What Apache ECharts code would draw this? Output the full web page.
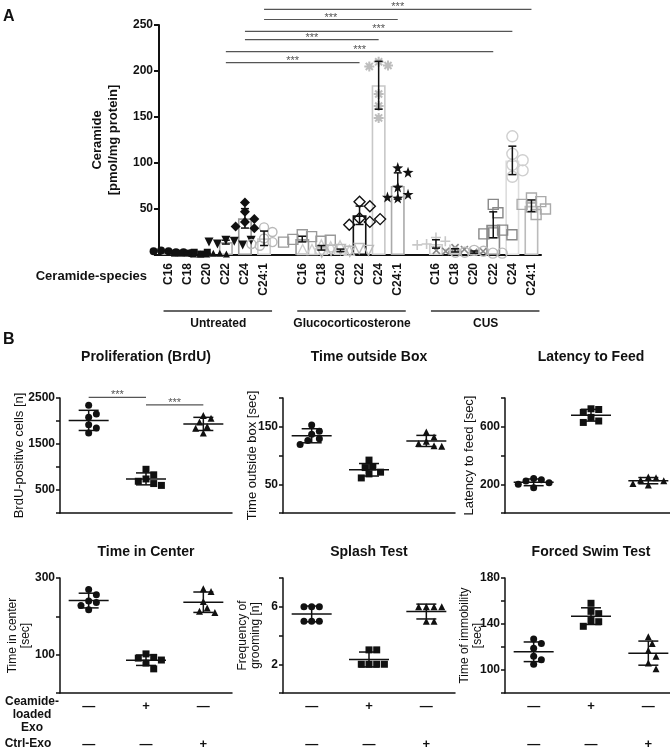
<!DOCTYPE html>
<html>
<head>
<meta charset="utf-8">
<script src="https://cdn.jsdelivr.net/npm/echarts@6.0.0/dist/echarts.min.js"></script>
<style>
  html, body { margin: 0; padding: 0; background: #fff; }
  #main { width: 670px; height: 749px; }
</style>
</head>
<body>
<div id="main"></div>
<script>
// ---------- panel A: ceramide species (pmol/mg protein), n = 6 per species ----------
var species = ['C16', 'C18', 'C20', 'C22', 'C24', 'C24:1'];
var groupNames = ['Untreated', 'Glucocorticosterone', 'CUS'];
var untreated = [
  [4, 3, 5, 3, 4, 2],
  [2, 3, 2, 1, 2, 3],
  [1, 2, 1, 2, 1, 1],
  [16, 15, 12, 11, 14, 16],
  [57, 47, 36, 39, 29, 31],
  [30, 25, 18, 14, 10, 12]
];
var gluco = [
  [22, 20, 17, 15, 14, 16],
  [11, 9, 6, 10, 6, 5],
  [6, 4, 5, 7, 3, 5],
  [58, 53, 40, 36, 33, 39],
  [210, 206, 205, 175, 162, 149],
  [95, 90, 74, 66, 62, 63]
];
var cus = [
  [19, 15, 12, 9, 6, 11],
  [8, 6, 4, 3, 5, 4],
  [5, 4, 3, 2, 3, 2],
  [55, 46, 24, 27, 23, 22],
  [129, 110, 103, 98, 92, 85],
  [62, 58, 55, 52, 50, 44]
];
var ticksA = [50, 100, 150, 200, 250];
// *** brackets: [from category, to category, height]
var sigA = [[3, 10, 209], [3, 17, 221], [4, 11, 234], [4, 18, 243], [5, 12, 256], [5, 19, 267]];

// ---------- panel B: behaviour, n = 6 per group ----------
var exoSigns = ['\u2014', '+', '\u2014'];
var ctrlSigns = ['\u2014', '\u2014', '+'];
var brdu = [[2340, 2080, 2150, 1920, 1850, 1740], [950, 830, 740, 690, 640, 600], [2120, 2060, 1980, 1880, 1840, 1740]];
var outsideBox = [[153, 137, 142, 129, 126, 119], [92, 80, 79, 71, 68, 61], [141, 132, 125, 121, 117, 116]];
var latency = [[240, 232, 222, 210, 200, 176], [725, 720, 700, 665, 640, 630], [250, 245, 230, 225, 205, 195]];
var centerTime = [[270, 256, 240, 236, 228, 217], [102, 93, 91, 86, 78, 63], [272, 265, 239, 222, 213, 210]];
var grooming = [[6, 6, 6, 5, 5, 5], [3, 3, 2, 2, 2, 2], [6, 6, 6, 6, 5, 5]];
var immobility = [[127, 123, 119, 112, 109, 105], [158, 151, 149, 143, 142, 138], [129, 123, 117, 112, 106, 101]];
var sigBrdu = [[0, 1, 2515], [1, 2, 2350]];
var ticksBrdu = [500, 1500, 2500];
var ticksBox = [50, 150];
var ticksFeed = [200, 600];
var ticksCenter = [100, 300];
var ticksGroom = [2, 6];
var ticksSwim = [100, 140, 180];

var FONT = '"Liberation Sans", Arial, Helvetica, sans-serif';
var INK = '#111';

// marker look per species: [symbol, colour, filled, size, rotate]
var ASTER = 'path://M2.83,-4.24L4.24,-2.83L1.41,0L4.24,2.83L2.83,4.24L0,1.41L-2.83,4.24L-4.24,2.83L-1.41,0L-4.24,-2.83L-2.83,-4.24L0,-1.41Z M-1,-5L1,-5L1,-1L5,-1L5,1L1,1L1,5L-1,5L-1,1L-5,1L-5,-1L-1,-1Z';
var PLUS = 'path://M-0.8,-5L0.8,-5L0.8,-0.8L5,-0.8L5,0.8L0.8,0.8L0.8,5L-0.8,5L-0.8,0.8L-5,0.8L-5,-0.8L-0.8,-0.8Z';
var STAR = 'path://M0,-5L1.2,-1.6L4.8,-1.5L1.9,0.6L2.9,4L0,2L-2.9,4L-1.9,0.6L-4.8,-1.5L-1.2,-1.6Z';
var markA = [
  [['circle', INK, 1, 8], ['rect', INK, 1, 7], ['triangle', INK, 1, 7], ['triangle', INK, 1, 9, 180], ['diamond', INK, 1, 10], ['circle', '#b8b8b8', 0, 9]],
  [['rect', '#999', 0, 10], ['triangle', '#ccc', 0, 10], ['triangle', '#bbb', 0, 10, 180], ['diamond', INK, 0, 11], [ASTER, '#bdbdbd', 1, 10], [STAR, INK, 1, 11]],
  [[PLUS, '#c8c8c8', 1, 10], [PLUS, '#888', 1, 10, 45], ['circle', '#bbb', 0, 10], ['rect', '#888', 0, 10], ['circle', '#cfcfcf', 0, 11], ['rect', '#aaa', 0, 10]]
];
var barColA = [
  ['#aaa', '#aaa', '#aaa', '#aaa', '#999', '#ccc'],
  ['#999', '#ccc', '#ccc', INK, '#c8c8c8', '#aaa'],
  ['#ccc', '#999', '#bbb', '#888', '#ddd', '#bbb']
];

function mean(a) { return a.reduce(function (s, v) { return s + v; }, 0) / a.length; }
function sd(a) {
  var m = mean(a);
  return Math.sqrt(a.reduce(function (s, v) { return s + (v - m) * (v - m); }, 0) / (a.length - 1));
}
// simple beeswarm: horizontal pixel offsets so markers don't sit on top of each other
function swarm(vals, pxPerUnit, d) {
  var placed = [];
  return vals.map(function (v) {
    var y = v * pxPerUnit, dx = 0;
    for (var k = 0; k < 30; k++) {
      dx = (k % 2 ? 1 : -1) * Math.ceil(k / 2) * d * 0.55;
      var ok = placed.every(function (p) {
        return (p[0] - dx) * (p[0] - dx) + (p[1] - y) * (p[1] - y) >= d * d;
      });
      if (ok) break;
    }
    placed.push([dx, y]);
    return dx;
  });
}
function showOnly(list) {
  return function (v) { return list.indexOf(v) >= 0 ? String(v) : ''; };
}
function seg(x1, y1, x2, y2, color, w) {
  return { type: 'line', shape: { x1: x1, y1: y1, x2: x2, y2: y2 }, style: { stroke: color, lineWidth: w } };
}
function errRender(halfMean, halfCap) {
  return function (params, api) {
    var x = api.value(0), m = api.value(1), s = api.value(2);
    var c = api.coord([x, m]), hi = api.coord([x, m + s]), lo = api.coord([x, m - s]);
    var kids = [
      seg(c[0], hi[1], c[0], lo[1], INK, 1.5),
      seg(c[0] - halfCap, hi[1], c[0] + halfCap, hi[1], INK, 1.5),
      seg(c[0] - halfCap, lo[1], c[0] + halfCap, lo[1], INK, 1.5)
    ];
    if (halfMean) kids.push(seg(c[0] - halfMean, c[1], c[0] + halfMean, c[1], INK, 1.5));
    return { type: 'group', children: kids };
  };
}
function sigRender(params, api) {
  var a = api.coord([api.value(0), api.value(2)]);
  var b = api.coord([api.value(1), api.value(2)]);
  return { type: 'group', children: [
    seg(a[0], a[1], b[0], b[1], '#555', 1.2),
    { type: 'text', x: (a[0] + b[0]) / 2, y: a[1] - 2,
      style: { text: '***', fill: '#555', font: '11px ' + FONT, align: 'center', verticalAlign: 'middle' } }
  ] };
}

var chart = echarts.init(document.getElementById('main'));

var grids = [], xAxes = [], yAxes = [], series = [], graphics = [];

// ---- panel A ----
var groupSets = [untreated, gluco, cus];
var catsA = [], catIdx = [];
groupSets.forEach(function (set, g) {
  if (g > 0) catsA.push('');
  catIdx.push(species.map(function (sp) { catsA.push(sp); return catsA.length - 1; }));
});
var skipBlank = function (i, v) { return v !== ''; };

grids.push({ left: 159, top: 25, width: 382, height: 230, outerBoundsMode: 'none' });
xAxes.push({
  type: 'category', gridIndex: 0, data: catsA,
  axisLine: { lineStyle: { color: INK, width: 2 } },
  axisTick: { alignWithLabel: true, length: 5, interval: skipBlank, lineStyle: { color: INK, width: 1.5 } },
  axisLabel: { rotate: 90, interval: skipBlank, margin: 8, color: INK, fontWeight: 'bold', fontSize: 12, fontFamily: FONT },
  splitLine: { show: false }
});
yAxes.push({
  type: 'value', gridIndex: 0, min: 0, max: 250, interval: 50,
  name: 'Ceramide\n[pmol/mg protein]', nameLocation: 'middle', nameGap: 38, nameMoveOverlap: false,
  nameTextStyle: { fontWeight: 'bold', fontSize: 13, lineHeight: 16, color: INK, fontFamily: FONT },
  axisLine: { show: true, lineStyle: { color: INK, width: 2 } },
  axisTick: { show: true, length: 5, lineStyle: { color: INK, width: 2 } },
  axisLabel: { formatter: showOnly(ticksA), color: INK, fontWeight: 'bold', fontSize: 12, fontFamily: FONT, margin: 6 },
  splitLine: { show: false }
});

var barData = catsA.map(function () { return '-'; });
var errA = [];
groupSets.forEach(function (set, g) {
  set.forEach(function (vals, s) {
    var idx = catIdx[g][s], m = markA[g][s];
    barData[idx] = { value: mean(vals), itemStyle: { borderColor: barColA[g][s] } };
    errA.push([idx, mean(vals), sd(vals)]);
    var offs = swarm(vals, 230 / 250, m[3] * 0.85);
    series.push({
      type: 'scatter', xAxisIndex: 0, yAxisIndex: 0, z: 3,
      symbol: m[0], symbolSize: m[3], symbolRotate: m[4] || 0,
      itemStyle: m[2] ? { color: m[1], opacity: 1 }
                      : { color: 'rgba(255,255,255,0)', borderColor: m[1], borderWidth: 1.4, opacity: 1 },
      data: vals.map(function (v, i) { return { value: [idx, v], symbolOffset: [offs[i], 0] }; })
    });
  });
});
series.unshift({
  type: 'bar', xAxisIndex: 0, yAxisIndex: 0, z: 2, barWidth: 14, data: barData,
  itemStyle: { color: 'rgba(255,255,255,0)', borderWidth: 1.6 }
});
series.push({ type: 'custom', xAxisIndex: 0, yAxisIndex: 0, z: 4, encode: { x: 0, y: 1 }, data: errA, renderItem: errRender(0, 4) });
series.push({ type: 'custom', xAxisIndex: 0, yAxisIndex: 0, z: 4, encode: { x: [0, 1], y: 2 }, data: sigA, renderItem: sigRender });
// group brackets under the species labels
series.push({
  type: 'custom', xAxisIndex: 0, yAxisIndex: 0, z: 4, encode: { x: [0, 1], y: 2 },
  data: catIdx.map(function (ids) { return [ids[0], ids[ids.length - 1], 0]; }),
  renderItem: function (params, api) {
    var a = api.coord([api.value(0), 0]), b = api.coord([api.value(1), 0]);
    var y = a[1] + 56;
    return { type: 'group', children: [
      seg(a[0] - 5, y, b[0] + 8, y, '#333', 1.5),
      { type: 'text', x: (a[0] + b[0]) / 2 + 2, y: y + 7,
        style: { text: groupNames[params.dataIndex], fill: INK, font: 'bold 12px ' + FONT, align: 'center', verticalAlign: 'top' } }
    ] };
  }
});

// ---- panel B ----
var panelsB = [
  { title: 'Proliferation (BrdU)', yName: 'BrdU-positive cells [n]', vals: brdu, range: [0, 2500, 500], ticks: ticksBrdu, sig: sigBrdu },
  { title: 'Time outside Box', yName: 'Time outside box [sec]', vals: outsideBox, range: [0, 200, 50], ticks: ticksBox },
  { title: 'Latency to Feed', yName: 'Latency to feed [sec]', vals: latency, range: [0, 800, 200], ticks: ticksFeed },
  { title: 'Time in Center', yName: 'Time in center\n[sec]', vals: centerTime, range: [0, 300, 100], ticks: ticksCenter },
  { title: 'Splash Test', yName: 'Frequency of\ngrooming [n]', vals: grooming, range: [0, 8, 2], ticks: ticksGroom },
  { title: 'Forced Swim Test', yName: 'Time of immobility\n[sec]', vals: immobility, range: [80, 180, 20], ticks: ticksSwim }
];
var colLeft = [60, 283, 505], rowTop = [398, 578], titleY = [357, 552];
var nameGapB = [34, 24, 29, 28, 21, 21];
var nameSizeB = [13, 13, 13, 12, 12, 12];
var symB = ['circle', 'rect', 'triangle'];
var signLabel = { color: INK, fontWeight: 'bold', fontSize: 13, fontFamily: FONT, margin: 7 };

panelsB.forEach(function (p, k) {
  var col = k % 3, row = Math.floor(k / 3), gi = grids.length;
  grids.push({ left: colLeft[col], top: rowTop[row], width: 172, height: 115, outerBoundsMode: 'none' });
  var xi = xAxes.length, yi = yAxes.length;
  xAxes.push({
    type: 'category', gridIndex: gi, data: exoSigns,
    axisLine: { lineStyle: { color: INK, width: 1.5 } },
    axisTick: { alignWithLabel: true, length: 4, lineStyle: { color: INK, width: 1.5 } },
    axisLabel: Object.assign({ show: row === 1 }, signLabel),
    splitLine: { show: false }
  });
  if (row === 1) {
    xAxes.push({
      type: 'category', gridIndex: gi, data: ctrlSigns, position: 'bottom', offset: 38,
      axisLine: { show: false }, axisTick: { show: false },
      axisLabel: Object.assign({ show: true }, signLabel), splitLine: { show: false }
    });
  }
  yAxes.push({
    type: 'value', gridIndex: gi, min: p.range[0], max: p.range[1], interval: p.range[2],
    name: p.yName, nameLocation: 'middle', nameGap: nameGapB[k], nameMoveOverlap: false,
    nameTextStyle: { fontSize: nameSizeB[k], lineHeight: 13, color: INK, fontFamily: FONT },
    axisLine: { show: true, lineStyle: { color: INK, width: 1.5 } },
    axisTick: { show: true, length: 4, lineStyle: { color: INK, width: 1.5 } },
    axisLabel: { formatter: showOnly(p.ticks), color: INK, fontWeight: 'bold', fontSize: 12, fontFamily: FONT, margin: 5 },
    splitLine: { show: false }
  });
  var ppu = 115 / (p.range[1] - p.range[0]);
  var stats = [];
  p.vals.forEach(function (vals, g) {
    var offs = swarm(vals, ppu, 7);
    stats.push([g, mean(vals), sd(vals)]);
    series.push({
      type: 'scatter', xAxisIndex: xi, yAxisIndex: yi, z: 3,
      symbol: symB[g], symbolSize: 7, itemStyle: { color: INK, opacity: 1 },
      data: vals.map(function (v, i) { return { value: [g, v], symbolOffset: [offs[i], 0] }; })
    });
  });
  series.push({ type: 'custom', xAxisIndex: xi, yAxisIndex: yi, z: 4, encode: { x: 0, y: 1 }, data: stats, renderItem: errRender(20, 10) });
  if (p.sig) {
    series.push({ type: 'custom', xAxisIndex: xi, yAxisIndex: yi, z: 4, encode: { x: [0, 1], y: 2 }, data: p.sig, renderItem: sigRender });
  }
  graphics.push({ type: 'text', x: colLeft[col] + 86, y: titleY[row],
    style: { text: p.title, fill: INK, font: 'bold 14px ' + FONT, align: 'center', verticalAlign: 'middle' } });
});

// panel letters and row labels
graphics.push({ type: 'text', x: 3, y: 17, style: { text: 'A', fill: INK, font: 'bold 16px ' + FONT, verticalAlign: 'middle' } });
graphics.push({ type: 'text', x: 3, y: 340, style: { text: 'B', fill: INK, font: 'bold 16px ' + FONT, verticalAlign: 'middle' } });
graphics.push({ type: 'text', x: 147, y: 276, style: { text: 'Ceramide-species', fill: INK, font: 'bold 13px ' + FONT, align: 'right', verticalAlign: 'middle' } });
graphics.push({ type: 'text', x: 32, y: 715, style: { text: 'Ceamide-\nloaded\nExo', fill: INK, font: 'bold 12px ' + FONT, lineHeight: 13, align: 'center', verticalAlign: 'middle' } });
graphics.push({ type: 'text', x: 28, y: 744, style: { text: 'Ctrl-Exo', fill: INK, font: 'bold 12px ' + FONT, align: 'center', verticalAlign: 'middle' } });

chart.setOption({
  animation: false,
  backgroundColor: '#fff',
  textStyle: { fontFamily: FONT },
  grid: grids,
  xAxis: xAxes,
  yAxis: yAxes,
  series: series,
  graphic: graphics
});
</script>
</body>
</html>
